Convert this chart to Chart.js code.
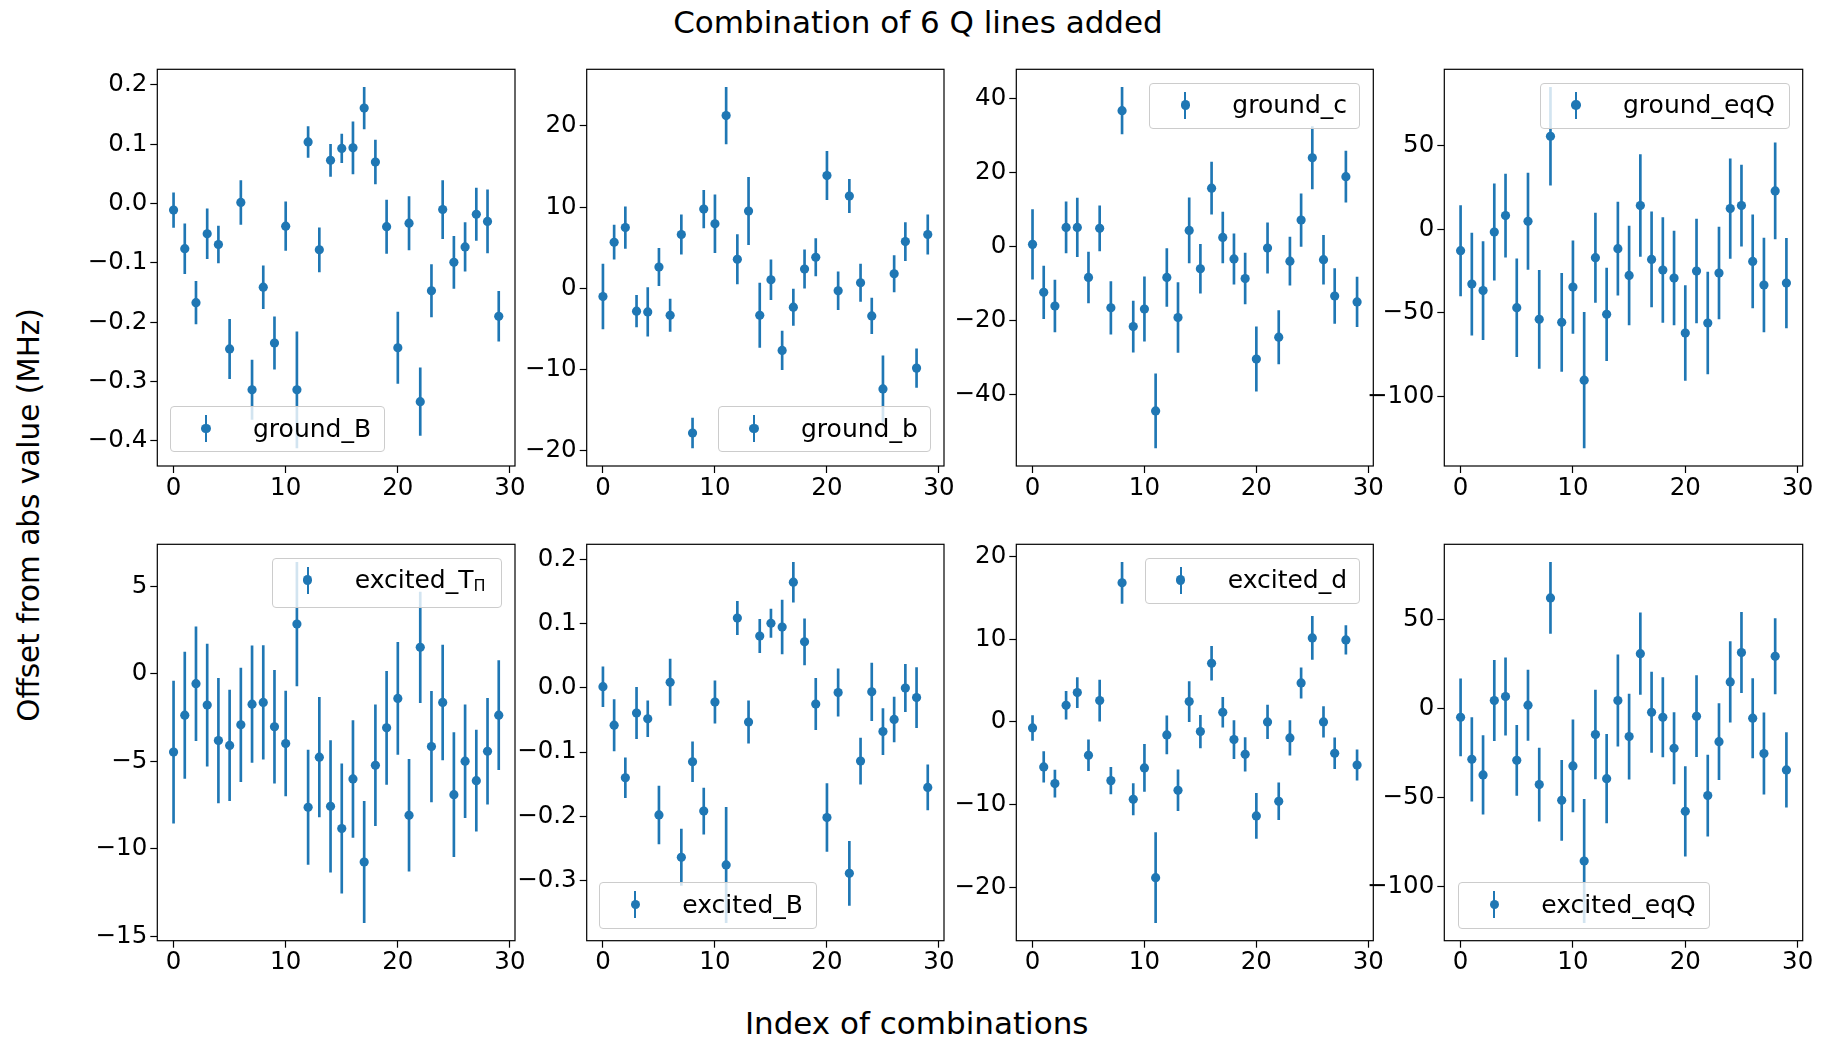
<!DOCTYPE html>
<html>
<head>
<meta charset="utf-8">
<title>Combination of 6 Q lines added</title>
<script src="https://cdn.jsdelivr.net/npm/chart.js@4.4.0/dist/chart.umd.min.js"></script>
<style>
    html, body { margin: 0; padding: 0; background: #fff; overflow: hidden; }
    #fig { position: relative; width: 1821px; height: 1038px; font-family: "DejaVu Sans", sans-serif; color: #000; }
    #fig canvas { position: absolute; }
    .suptext { position: absolute; white-space: nowrap; text-align: center; }
    .legend { position: absolute; box-sizing: border-box; border: 1px solid #cccccc; border-radius: 4px; background: rgba(255, 255, 255, 0.8); white-space: nowrap; }
    .legend .bar { position: absolute; width: 2px; height: 27px; background: #1f77b4; }
    .legend .dot { position: absolute; width: 9.4px; height: 9.4px; border-radius: 50%; background: #1f77b4; }
    .legend .txt { position: absolute; font-size: 25px; line-height: 25px; }
    .legend sub { font-size: 16px; line-height: 0; vertical-align: -3px; }
</style>
</head>
<body>
<div id="fig"></div>
<script>
// --- datos (valor y error de cada combinacion) ---
const xTickValues = [0, 10, 20, 30];

const groundB = [-0.011, -0.076, -0.167, -0.051, -0.069, -0.245, 0.002, -0.314, -0.141, -0.235, -0.038, -0.314, 0.104, -0.078, 0.073, 0.093, 0.094, 0.161, 0.070, -0.039, -0.243, -0.033, -0.334, -0.147, -0.010, -0.099, -0.073, -0.018, -0.030, -0.190];
const groundBErr = [0.029, 0.042, 0.036, 0.042, 0.031, 0.050, 0.037, 0.050, 0.036, 0.044, 0.041, 0.098, 0.026, 0.037, 0.027, 0.024, 0.044, 0.035, 0.037, 0.045, 0.060, 0.045, 0.057, 0.044, 0.049, 0.044, 0.041, 0.044, 0.053, 0.042];
const groundBTicks = [-0.4, -0.3, -0.2, -0.1, 0, 0.1, 0.2];

const groundb = [-0.99, 5.69, 7.50, -2.80, -2.89, 2.64, -3.30, 6.64, -17.8, 9.77, 7.96, 21.28, 3.59, 9.53, -3.30, 1.07, -7.63, -2.31, 2.39, 3.84, 13.9, -0.29, 11.38, 0.70, -3.38, -12.37, 1.81, 5.77, -9.81, 6.64];
const groundbErr = [3.98, 2.10, 2.56, 1.94, 3.0, 2.29, 1.98, 2.41, 1.84, 2.31, 3.57, 3.48, 3.03, 4.14, 3.96, 2.45, 2.37, 2.23, 2.35, 2.29, 2.97, 2.33, 2.04, 2.29, 2.19, 4.08, 2.23, 2.35, 2.37, 2.43];
const groundbTicks = [-20, -10, 0, 10, 20];

const groundC = [0.63, -12.3, -16.0, 5.2, 5.2, -8.3, 4.96, -16.5, 36.7, -21.55, -16.8, -44.3, -8.3, -19.1, 4.4, -5.95, 15.8, 2.5, -3.3, -8.6, -30.3, -0.36, -24.4, -3.9, 7.2, 24.0, -3.5, -13.3, 18.9, -14.9];
const groundCErr = [9.4, 7.1, 7.0, 6.9, 7.9, 6.85, 6.1, 7.1, 6.3, 6.9, 8.7, 10.0, 7.8, 9.4, 8.8, 6.6, 7.0, 6.85, 6.8, 6.85, 8.7, 6.8, 7.2, 6.5, 7.1, 8.4, 6.6, 7.4, 6.9, 6.7];
const groundCTicks = [-40, -20, 0, 20, 40];

const groundEqQ = [-12.8, -32.8, -36.7, -1.6, 8.2, -46.9, 4.8, -53.9, 55.7, -55.7, -34.6, -90.3, -17.0, -50.9, -11.6, -27.6, 14.2, -18.0, -24.4, -29.2, -62.1, -25.0, -56.1, -26.2, 12.4, 14.2, -19.2, -33.4, 23.0, -32.2];
const groundEqQErr = [27, 30.5, 29.4, 28.8, 24.9, 29.3, 28.8, 29.4, 29.3, 29.4, 27.7, 40.6, 26.7, 27.7, 27.9, 29.6, 30.5, 28.5, 31.4, 28.1, 28.4, 31.1, 30.5, 27.5, 29.8, 24.3, 27.8, 28.1, 28.8, 26.8];
const groundEqQTicks = [-100, -50, 0, 50];

const excitedT = [-4.48, -2.37, -0.57, -1.79, -3.82, -4.10, -2.92, -1.74, -1.64, -3.03, -3.99, 2.84, -7.63, -4.77, -7.58, -8.85, -6.01, -10.76, -5.23, -3.09, -1.41, -8.09, 1.51, -4.16, -1.64, -6.91, -5.0, -6.11, -4.43, -2.37];
const excitedTErr = [4.06, 3.61, 3.25, 3.49, 3.56, 3.16, 3.25, 3.33, 3.25, 3.23, 3.0, 3.53, 3.27, 3.42, 3.76, 3.70, 3.34, 3.47, 3.46, 3.23, 3.20, 3.20, 3.16, 3.16, 3.28, 3.55, 3.22, 2.89, 3.03, 3.12];
const excitedTTicks = [-15, -10, -5, 0, 5];

const excitedB = [0.002, -0.058, -0.140, -0.039, -0.048, -0.198, 0.009, -0.264, -0.115, -0.192, -0.022, -0.276, 0.109, -0.053, 0.081, 0.101, 0.095, 0.165, 0.072, -0.025, -0.202, -0.007, -0.289, -0.114, -0.006, -0.068, -0.049, 0.000, -0.015, -0.155];
const excitedBErr = [0.031, 0.040, 0.031, 0.040, 0.028, 0.045, 0.036, 0.044, 0.031, 0.036, 0.033, 0.090, 0.026, 0.033, 0.026, 0.022, 0.042, 0.031, 0.036, 0.040, 0.053, 0.037, 0.050, 0.036, 0.045, 0.036, 0.035, 0.037, 0.047, 0.035];
const excitedBTicks = [-0.3, -0.2, -0.1, 0, 0.1, 0.2];

const excitedD = [-0.73, -5.44, -7.45, 2.01, 3.54, -4.03, 2.58, -7.09, 16.8, -9.35, -5.56, -18.81, -1.57, -8.26, 2.46, -1.17, 7.09, 1.17, -2.13, -3.91, -11.36, 0.0, -9.59, -1.93, 4.71, 10.15, 0.0, -3.79, 9.91, -5.2];
const excitedDErr = [1.49, 1.85, 1.63, 1.69, 1.83, 1.87, 2.48, 1.61, 2.48, 1.89, 2.84, 5.44, 2.30, 2.46, 2.42, 1.97, 2.05, 1.81, 2.30, 2.03, 2.72, 2.03, 2.22, 2.09, 1.83, 2.60, 1.85, 1.87, 1.73, 1.83];
const excitedDTicks = [-20, -10, 0, 10, 20];

const excitedEqQ = [-4.9, -28.5, -37.3, 4.5, 6.75, -29.1, 1.9, -42.75, 62.25, -51.6, -32.25, -85.7, -14.6, -39.4, 4.5, -15.75, 30.9, -2.1, -4.9, -22.3, -57.75, -4.3, -48.9, -18.6, 15.0, 31.5, -5.4, -25.3, 29.4, -34.5];
const excitedEqQErr = [21.7, 23.5, 22.1, 22.6, 21.75, 19.7, 19.8, 20.5, 20.0, 22.5, 25.9, 34.7, 25.0, 24.9, 25.7, 23.9, 22.9, 22.6, 22.3, 20.0, 25.2, 22.8, 22.8, 21.4, 22.7, 22.6, 22.3, 22.9, 21.2, 21.0];
const excitedEqQTicks = [-100, -50, 0, 50];

const panelNames = ['ground_B', 'ground_b', 'ground_c', 'ground_eqQ', 'excited_T<sub>\u03A0</sub>', 'excited_B', 'excited_d', 'excited_eqQ'];

// --- posiciones (en px de la figura) ---
const boxLeft = [157.3, 586.7, 1016.3, 1444.3];
const boxRight = [515, 944, 1373.3, 1802.7];
const boxTop = [69.3, 544.3];
const boxBottom = [466, 940.7];
// [left, top, width, height]
const legendBoxes = [
    [170, 406, 215, 46], [718, 406, 213, 46], [1149.3, 82.5, 211, 46], [1540, 82.5, 249.5, 46],
    [271.7, 557.5, 230, 50.5], [599.3, 882, 218, 46.5], [1144.7, 557.5, 215.5, 46], [1458.3, 882, 252, 46.5]
];

const BLUE = '#1f77b4';
const FONT = '"DejaVu Sans", sans-serif';
const fig = document.getElementById('fig');

const panels = [
    { values: groundB, errors: groundBErr, ticks: groundBTicks, decimals: 1 },
    { values: groundb, errors: groundbErr, ticks: groundbTicks, decimals: 0 },
    { values: groundC, errors: groundCErr, ticks: groundCTicks, decimals: 0 },
    { values: groundEqQ, errors: groundEqQErr, ticks: groundEqQTicks, decimals: 0 },
    { values: excitedT, errors: excitedTErr, ticks: excitedTTicks, decimals: 0 },
    { values: excitedB, errors: excitedBErr, ticks: excitedBTicks, decimals: 1 },
    { values: excitedD, errors: excitedDErr, ticks: excitedDTicks, decimals: 0 },
    { values: excitedEqQ, errors: excitedEqQErr, ticks: excitedEqQTicks, decimals: 0 }
];

function fmt(v, d) {
    const s = Math.abs(v).toFixed(d);
    return (v < -1e-9 ? '\u2212' : '') + s;
}

// marco completo del eje (los 4 lados, como matplotlib)
const framePlugin = {
    id: 'frame',
    afterDraw(chart) {
        const { ctx, chartArea: a } = chart;
        ctx.save();
        ctx.strokeStyle = '#000';
        ctx.lineWidth = 1.2;
        ctx.strokeRect(a.left, a.top, a.right - a.left, a.bottom - a.top);
        ctx.restore();
    }
};

const Y_AXIS_W = 90;
const X_AXIS_H = 45;

panels.forEach((p, idx) => {
    const col = idx % 4, row = Math.floor(idx / 4);
    const bL = boxLeft[col], bR = boxRight[col], bT = boxTop[row], bB = boxBottom[row];
    const cL = Math.floor(bL) - 100;
    const cT = Math.floor(bT) - 20;
    const cW = Math.ceil(bR - cL + 18);
    const cH = Math.ceil(bB - cT + X_AXIS_H);

    const canvas = document.createElement('canvas');
    canvas.width = cW; canvas.height = cH;
    canvas.style.left = cL + 'px'; canvas.style.top = cT + 'px';
    canvas.style.width = cW + 'px'; canvas.style.height = cH + 'px';
    fig.appendChild(canvas);

    // limites como el autoscale de matplotlib (5% de margen)
    const lows = p.values.map((v, i) => v - p.errors[i]);
    const highs = p.values.map((v, i) => v + p.errors[i]);
    const lo = Math.min(...lows), hi = Math.max(...highs);
    const m = 0.05 * (hi - lo);

    const tickFont = { family: FONT, size: 24.5 };

    new Chart(canvas, {
        type: 'scatter',
        data: {
            datasets: [
                {
                    type: 'scatter',
                    data: p.values.map((v, i) => ({ x: i, y: v })),
                    pointRadius: 4.6, pointHoverRadius: 4.6,
                    pointBackgroundColor: BLUE, pointBorderWidth: 0
                },
                {
                    type: 'bar',
                    data: p.values.map((v, i) => ({ x: i, y: [lows[i], highs[i]] })),
                    backgroundColor: BLUE, borderWidth: 0, barThickness: 2
                }
            ]
        },
        options: {
            responsive: false, animation: false, events: [],
            layout: { padding: { left: bL - cL - Y_AXIS_W, top: bT - cT, right: cW - (bR - cL), bottom: cH - X_AXIS_H - (bB - cT) } },
            plugins: { legend: { display: false }, tooltip: { enabled: false } },
            scales: {
                x: {
                    type: 'linear', min: -1.45, max: 30.45, offset: false,
                    border: { display: false },
                    grid: { display: true, offset: false, drawOnChartArea: false, drawTicks: true, tickLength: 7, tickWidth: 1.2, tickColor: '#000' },
                    afterBuildTicks: s => { s.ticks = xTickValues.map(v => ({ value: v })); },
                    afterFit: s => { s.height = X_AXIS_H; },
                    ticks: { color: '#000', font: tickFont, padding: 0.5, maxRotation: 0, autoSkip: false, callback: v => fmt(v, 0) }
                },
                y: {
                    type: 'linear', min: lo - m, max: hi + m,
                    border: { display: false },
                    grid: { display: true, drawOnChartArea: false, drawTicks: true, tickLength: 7, tickWidth: 1.2, tickColor: '#000' },
                    afterBuildTicks: s => { s.ticks = p.ticks.map(v => ({ value: v })); },
                    afterFit: s => { s.width = Y_AXIS_W; },
                    ticks: { color: '#000', font: tickFont, padding: 3, autoSkip: false, callback: v => fmt(v, p.decimals) }
                }
            }
        },
        plugins: [framePlugin]
    });
});

// leyendas (marcador con barra de error + texto)
legendBoxes.forEach((b, idx) => {
    const [l, t, w, h] = b;
    const lg = document.createElement('div');
    lg.className = 'legend';
    lg.style.left = l + 'px'; lg.style.top = t + 'px';
    lg.style.width = w + 'px'; lg.style.height = h + 'px';
    const cy = 21.5;
    lg.innerHTML =
        `<div class="bar" style="left:${35 - 1}px;top:${cy - 13.5}px"></div>` +
        `<div class="dot" style="left:${35 - 4.7}px;top:${cy - 4.7}px"></div>` +
        `<span class="txt" style="left:82px;top:8.5px">${panelNames[idx]}</span>`;
    fig.appendChild(lg);
});

// titulos de la figura
function addText(html, css) {
    const d = document.createElement('div');
    d.className = 'suptext';
    d.innerHTML = html;
    Object.assign(d.style, css);
    fig.appendChild(d);
}
addText('Combination of 6 Q lines added', { left: (918 - 400) + 'px', width: '800px', top: '7px', fontSize: '31px', lineHeight: '31px' });
addText('Index of combinations', { left: (916.7 - 400) + 'px', width: '800px', top: '1008px', fontSize: '31px', lineHeight: '31px' });
addText('Offset from abs value (MHz)', { left: '30px', top: '515px', fontSize: '29.5px', lineHeight: '29.5px', transform: 'translate(-50%, -50%) rotate(-90deg)' });
</script>
</body>
</html>
